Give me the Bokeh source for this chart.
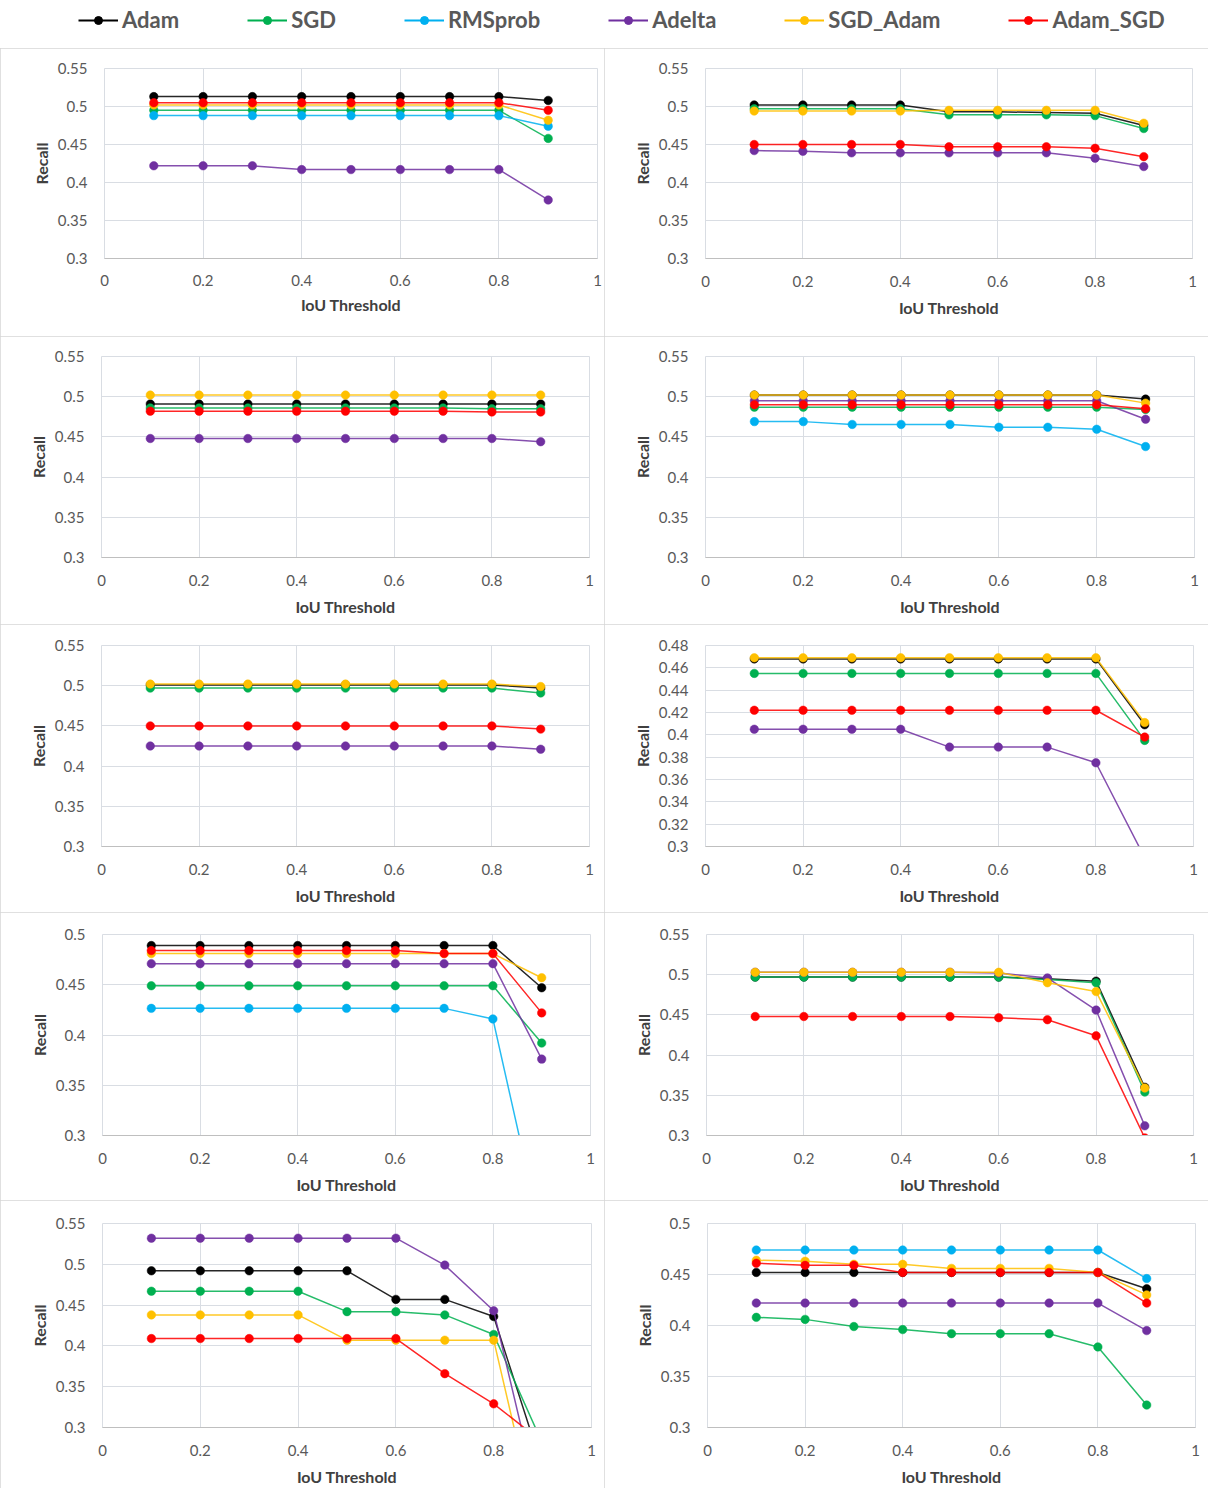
from bokeh.plotting import figure
from bokeh.models import (ColumnDataSource, FixedTicker, CustomJSTickFormatter,
                          Legend, LegendItem, Range1d)
from bokeh.layouts import column, row
from bokeh.core.properties import value
from bokeh.embed import file_html
from bokeh.resources import INLINE

# ---------------- data ----------------
iou = [0.1, 0.2, 0.3, 0.4, 0.5, 0.6, 0.7, 0.8, 0.9]
series_names = ["Adam", "SGD", "RMSprob", "Adelta", "SGD_Adam", "Adam_SGD"]
series_colors = ["#000000", "#00b050", "#00b0f0", "#7030a0", "#ffc000", "#ff0000"]
x_ticks = [0, 0.2, 0.4, 0.6, 0.8, 1]
y_ticks_055 = [0.3, 0.35, 0.4, 0.45, 0.5, 0.55]
y_ticks_048 = [0.3, 0.32, 0.34, 0.36, 0.38, 0.4, 0.42, 0.44, 0.46, 0.48]
y_ticks_050 = [0.3, 0.35, 0.4, 0.45, 0.5]

# panel 1
p1_adam = [0.513, 0.513, 0.513, 0.513, 0.513, 0.513, 0.513, 0.513, 0.508]
p1_sgd = [0.495, 0.495, 0.495, 0.495, 0.495, 0.495, 0.495, 0.495, 0.458]
p1_rmsprob = [0.488, 0.488, 0.488, 0.488, 0.488, 0.488, 0.488, 0.488, 0.474]
p1_adelta = [0.422, 0.422, 0.422, 0.417, 0.417, 0.417, 0.417, 0.417, 0.377]
p1_sgd_adam = [0.502, 0.502, 0.502, 0.502, 0.502, 0.502, 0.502, 0.502, 0.482]
p1_adam_sgd = [0.505, 0.505, 0.505, 0.505, 0.505, 0.505, 0.505, 0.505, 0.495]
# panel 2
p2_adam = [0.502, 0.502, 0.502, 0.502, 0.493, 0.493, 0.492, 0.491, 0.475]
p2_sgd = [0.497, 0.497, 0.497, 0.497, 0.489, 0.489, 0.489, 0.488, 0.471]
p2_adelta = [0.442, 0.441, 0.439, 0.439, 0.439, 0.439, 0.439, 0.432, 0.421]
p2_sgd_adam = [0.494, 0.494, 0.494, 0.494, 0.495, 0.495, 0.495, 0.495, 0.478]
p2_adam_sgd = [0.450, 0.450, 0.450, 0.450, 0.447, 0.447, 0.447, 0.445, 0.434]
# panel 3
p3_adam = [0.491, 0.491, 0.491, 0.491, 0.491, 0.491, 0.491, 0.491, 0.491]
p3_sgd = [0.486, 0.486, 0.486, 0.486, 0.486, 0.486, 0.486, 0.485, 0.485]
p3_adelta = [0.448, 0.448, 0.448, 0.448, 0.448, 0.448, 0.448, 0.448, 0.444]
p3_sgd_adam = [0.502, 0.502, 0.502, 0.502, 0.502, 0.502, 0.502, 0.502, 0.502]
p3_adam_sgd = [0.482, 0.482, 0.482, 0.482, 0.482, 0.482, 0.482, 0.481, 0.481]
# panel 4
p4_adam = [0.502, 0.502, 0.502, 0.502, 0.502, 0.502, 0.502, 0.502, 0.497]
p4_sgd = [0.487, 0.487, 0.487, 0.487, 0.487, 0.487, 0.487, 0.487, 0.484]
p4_rmsprob = [0.469, 0.469, 0.4655, 0.4655, 0.4655, 0.462, 0.462, 0.4595, 0.438]
p4_adelta = [0.495, 0.495, 0.495, 0.495, 0.495, 0.495, 0.495, 0.495, 0.472]
p4_sgd_adam = [0.502, 0.502, 0.502, 0.502, 0.502, 0.502, 0.502, 0.502, 0.492]
p4_adam_sgd = [0.490, 0.490, 0.490, 0.490, 0.490, 0.490, 0.490, 0.490, 0.485]
# panel 5
p5_adam = [0.501, 0.501, 0.501, 0.501, 0.501, 0.501, 0.501, 0.501, 0.497]
p5_sgd = [0.497, 0.497, 0.497, 0.497, 0.497, 0.497, 0.497, 0.497, 0.491]
p5_adelta = [0.425, 0.425, 0.425, 0.425, 0.425, 0.425, 0.425, 0.425, 0.421]
p5_sgd_adam = [0.502, 0.502, 0.502, 0.502, 0.502, 0.502, 0.502, 0.502, 0.499]
p5_adam_sgd = [0.450, 0.450, 0.450, 0.450, 0.450, 0.450, 0.450, 0.450, 0.446]
# panel 6
p6_adam = [0.468, 0.468, 0.468, 0.468, 0.468, 0.468, 0.468, 0.468, 0.409]
p6_sgd = [0.455, 0.455, 0.455, 0.455, 0.455, 0.455, 0.455, 0.455, 0.395]
p6_adelta = [0.405, 0.405, 0.405, 0.405, 0.389, 0.389, 0.389, 0.375, 0.290]
p6_sgd_adam = [0.469, 0.469, 0.469, 0.469, 0.469, 0.469, 0.469, 0.469, 0.411]
p6_adam_sgd = [0.422, 0.422, 0.422, 0.422, 0.422, 0.422, 0.422, 0.422, 0.398]
# panel 7
p7_adam = [0.489, 0.489, 0.489, 0.489, 0.489, 0.489, 0.489, 0.489, 0.447]
p7_sgd = [0.449, 0.449, 0.449, 0.449, 0.449, 0.449, 0.449, 0.449, 0.392]
p7_rmsprob = [0.4265, 0.4265, 0.4265, 0.4265, 0.4265, 0.4265, 0.4265, 0.416, 0.200]
p7_adelta = [0.471, 0.471, 0.471, 0.471, 0.471, 0.471, 0.471, 0.471, 0.376]
p7_sgd_adam = [0.481, 0.481, 0.481, 0.481, 0.481, 0.481, 0.481, 0.481, 0.457]
p7_adam_sgd = [0.484, 0.484, 0.484, 0.484, 0.484, 0.484, 0.481, 0.481, 0.422]
# panel 8
p8_adam = [0.497, 0.497, 0.497, 0.497, 0.497, 0.497, 0.495, 0.492, 0.360]
p8_sgd = [0.497, 0.497, 0.497, 0.497, 0.497, 0.497, 0.494, 0.490, 0.354]
p8_adelta = [0.503, 0.503, 0.503, 0.503, 0.503, 0.502, 0.496, 0.456, 0.312]
p8_sgd_adam = [0.503, 0.503, 0.503, 0.503, 0.503, 0.503, 0.490, 0.479, 0.359]
p8_adam_sgd = [0.448, 0.448, 0.448, 0.448, 0.448, 0.4465, 0.444, 0.424, 0.297]
# panel 9
p9_adam = [0.492, 0.492, 0.492, 0.492, 0.492, 0.457, 0.457, 0.436, 0.250]
p9_sgd = [0.467, 0.467, 0.467, 0.467, 0.442, 0.442, 0.438, 0.414, 0.280]
p9_adelta = [0.532, 0.532, 0.532, 0.532, 0.532, 0.532, 0.499, 0.443, 0.190]
p9_sgd_adam = [0.438, 0.438, 0.438, 0.438, 0.407, 0.407, 0.407, 0.407, 0.150]
p9_adam_sgd = [0.409, 0.409, 0.409, 0.409, 0.409, 0.409, 0.366, 0.329, 0.282]
# panel 10
p10_adam = [0.452, 0.452, 0.452, 0.452, 0.452, 0.452, 0.452, 0.452, 0.436]
p10_sgd = [0.408, 0.406, 0.399, 0.396, 0.392, 0.392, 0.392, 0.379, 0.322]
p10_rmsprob = [0.474, 0.474, 0.474, 0.474, 0.474, 0.474, 0.474, 0.474, 0.446]
p10_adelta = [0.422, 0.422, 0.422, 0.422, 0.422, 0.422, 0.422, 0.422, 0.395]
p10_sgd_adam = [0.464, 0.463, 0.460, 0.460, 0.456, 0.456, 0.456, 0.452, 0.430]
p10_adam_sgd = [0.461, 0.459, 0.459, 0.452, 0.452, 0.452, 0.452, 0.452, 0.422]

panels = [
    ([p1_adam, p1_sgd, p1_rmsprob, p1_adelta, p1_sgd_adam, p1_adam_sgd], y_ticks_055),
    ([p2_adam, p2_sgd, None, p2_adelta, p2_sgd_adam, p2_adam_sgd], y_ticks_055),
    ([p3_adam, p3_sgd, None, p3_adelta, p3_sgd_adam, p3_adam_sgd], y_ticks_055),
    ([p4_adam, p4_sgd, p4_rmsprob, p4_adelta, p4_sgd_adam, p4_adam_sgd], y_ticks_055),
    ([p5_adam, p5_sgd, None, p5_adelta, p5_sgd_adam, p5_adam_sgd], y_ticks_055),
    ([p6_adam, p6_sgd, None, p6_adelta, p6_sgd_adam, p6_adam_sgd], y_ticks_048),
    ([p7_adam, p7_sgd, p7_rmsprob, p7_adelta, p7_sgd_adam, p7_adam_sgd], y_ticks_050),
    ([p8_adam, p8_sgd, None, p8_adelta, p8_sgd_adam, p8_adam_sgd], y_ticks_055),
    ([p9_adam, p9_sgd, None, p9_adelta, p9_sgd_adam, p9_adam_sgd], y_ticks_055),
    ([p10_adam, p10_sgd, p10_rmsprob, p10_adelta, p10_sgd_adam, p10_adam_sgd], y_ticks_050),
]

# ---------------- layout / style ----------------
FONT = "Lato"
PANEL_W, PANEL_H, LEGEND_H = 604, 288, 48
# (left, right, top, bottom) borders of each panel's plot frame
borders = [
    (104, 7, 19, 78), (101, 16, 20, 66),
    (101, 15, 20, 67), (101, 14, 20, 66),
    (101, 15, 21, 66), (101, 15, 21, 63),
    (102, 14, 22, 61), (102, 15, 22, 65),
    (102, 13, 23, 61), (103, 13, 23, 61),
]
GRID = "#d9dde3"
fmt_code = "return String(Math.round(tick * 100) / 100);"


def make_panel(series, yticks, brd, first):
    bl, br, bt, bb = brd
    f = figure(width=PANEL_W, height=PANEL_H, output_backend="svg",
               toolbar_location=None,
               x_range=Range1d(0, 1), y_range=Range1d(yticks[0], yticks[-1]),
               min_border_left=bl, min_border_right=br,
               min_border_top=bt, min_border_bottom=bb,
               background_fill_color="white", border_fill_color="white",
               styles={"outline": "1px solid #d6d6d6", "outline-offset": "-1px"})
    f.outline_line_color = GRID
    f.xaxis.ticker = FixedTicker(ticks=x_ticks)
    f.yaxis.ticker = FixedTicker(ticks=yticks)
    for ax in (f.xaxis[0], f.yaxis[0]):
        ax.formatter = CustomJSTickFormatter(code=fmt_code)
        ax.major_tick_line_color = None
        ax.minor_tick_line_color = None
        ax.major_label_text_font = FONT
        ax.major_label_text_font_size = "15px"
        ax.major_label_text_color = "#595959"
        ax.axis_label_text_font = FONT
        ax.axis_label_text_font_size = "16px"
        ax.axis_label_text_font_style = "bold"
        ax.axis_label_text_color = "#404040"
    f.xaxis.axis_label = "IoU Threshold"
    f.yaxis.axis_label = "Recall"
    f.xaxis.axis_line_color = "#bfbfbf"
    f.yaxis.axis_line_color = None
    f.xaxis.major_label_standoff = 10 if first else 11
    f.xaxis.axis_label_standoff = 6 if first else 8
    f.yaxis.major_label_standoff = 11
    f.yaxis.axis_label_standoff = 4
    f.grid.grid_line_color = GRID
    f.grid.grid_line_width = 1
    for vals, color in zip(series, series_colors):
        if vals is None:
            continue
        src = ColumnDataSource(dict(x=iou, y=vals))
        f.line("x", "y", source=src, line_color=color, line_width=1.5, line_alpha=0.85)
        f.scatter("x", "y", source=src, size=8.5, fill_color=color,
                  line_color=color, line_alpha=0.5, line_width=1)
    return f


figs = [make_panel(s, t, b, i == 0)
        for i, ((s, t), b) in enumerate(zip(panels, borders))]

# legend strip
lf = figure(width=2 * PANEL_W, height=LEGEND_H, output_backend="svg",
            toolbar_location=None, x_axis_location=None, y_axis_location=None,
            x_range=Range1d(0, 1), y_range=Range1d(0, 1), min_border=0)
lf.grid.visible = False
lf.outline_line_color = None
items = []
for name, color in zip(series_names, series_colors):
    src = ColumnDataSource(dict(x=[float("nan")], y=[float("nan")]))
    r1 = lf.line("x", "y", source=src, line_color=color, line_width=2)
    r2 = lf.scatter("x", "y", source=src, size=8, fill_color=color, line_color=color)
    items.append(LegendItem(label=value(name), renderers=[r1, r2]))
leg = Legend(items=items, orientation="horizontal", location=(78, 15),
             spacing=68, glyph_width=40, glyph_height=20, label_standoff=4,
             padding=0, margin=0, border_line_color=None,
             background_fill_alpha=0,
             label_text_font=FONT, label_text_font_size="22px",
             label_text_font_style="bold", label_text_color="#595959")
lf.add_layout(leg, "center")

layout = column(lf,
                row(figs[0], figs[1]), row(figs[2], figs[3]),
                row(figs[4], figs[5]), row(figs[6], figs[7]),
                row(figs[8], figs[9]))

open("out.html", "w").write(file_html(layout, INLINE, title="Recall vs IoU"))
